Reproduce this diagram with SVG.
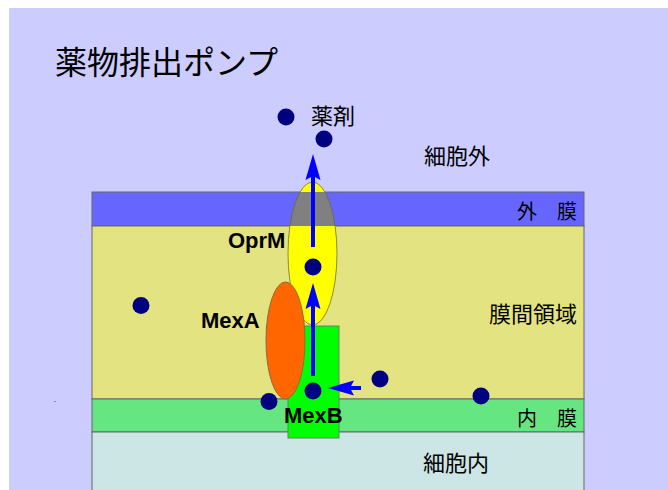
<svg xmlns="http://www.w3.org/2000/svg" width="668" height="490" viewBox="0 0 668 490">
  <style>
    .jp { font-family: "Noto Sans CJK JP", "Noto Sans CJK SC", sans-serif; fill: #000; }
    .lbl { font-family: "Liberation Sans", Arial, sans-serif; font-weight: bold; font-size: 22px; fill: #000; }
    .layer { stroke: #666; stroke-width: 1; }
    .drug { fill: #000080; }
    .flow { stroke: #0000ff; stroke-width: 4; fill: none; marker-end: url(#head); }
  </style>
  <defs>
    <marker id="head" markerUnits="userSpaceOnUse" viewBox="-26 -8 26 16" refX="-22" refY="0" markerWidth="26" markerHeight="16" orient="auto">
      <path d="M0,0 L-26,-7.5 L-22,0 L-26,7.5 Z" fill="#0000ff"/>
    </marker>
    <clipPath id="outerBand">
      <rect x="92" y="192" width="492" height="34"/>
    </clipPath>
  </defs>

  <!-- background -->
  <rect x="0" y="0" width="668" height="490" fill="#ffffff"/>
  <rect x="9" y="8" width="659" height="482" fill="#ccccff"/>

  <!-- title -->
  <text class="jp" x="55" y="74" font-size="32">薬物排出ポンプ</text>

  <!-- cell envelope layers -->
  <g id="layers">
    <rect class="layer" x="92" y="192" width="492" height="34" fill="#6666ff"/>
    <rect class="layer" x="92" y="226" width="492" height="173" fill="#e3e382"/>
    <rect class="layer" x="92" y="399" width="492" height="33" fill="#66e680"/>
    <rect class="layer" x="92" y="432" width="492" height="62" fill="#cce5e5"/>
  </g>

  <!-- region labels -->
  <text class="jp" x="424" y="164" font-size="22">細胞外</text>
  <text class="jp" x="577" y="219" font-size="20" text-anchor="end">外　膜</text>
  <text class="jp" x="577" y="322" font-size="22" text-anchor="end">膜間領域</text>
  <text class="jp" x="577" y="426" font-size="20" text-anchor="end">内　膜</text>
  <text class="jp" x="423" y="471" font-size="22">細胞内</text>

  <!-- OprM: outer membrane channel -->
  <g id="OprM">
    <ellipse cx="312.5" cy="253.5" rx="24.5" ry="71.5" fill="#ffff00" stroke="#8a8a40" stroke-width="1"/>
    <ellipse cx="312.5" cy="253.5" rx="24.5" ry="71.5" fill="#808080" stroke="#666" stroke-width="1" clip-path="url(#outerBand)"/>
    <text class="lbl" x="228" y="248">OprM</text>
  </g>

  <!-- MexB: inner membrane transporter -->
  <g id="MexB">
    <rect x="288" y="326" width="51" height="112" fill="#00ff00" stroke="#5a8a5a" stroke-width="1"/>
    <text class="lbl" x="284" y="423">MexB</text>
  </g>

  <!-- MexA: membrane fusion protein -->
  <g id="MexA">
    <ellipse cx="285.5" cy="340.5" rx="19.5" ry="58.5" fill="#ff6600" stroke="#8a6a40" stroke-width="1"/>
    <text class="lbl" x="201" y="328">MexA</text>
  </g>

  <!-- drug molecules -->
  <g id="drugs">
    <circle class="drug" cx="286" cy="117" r="8.5"/>
    <circle class="drug" cx="324" cy="139" r="8.5"/>
    <circle class="drug" cx="313" cy="267" r="8.5"/>
    <circle class="drug" cx="141" cy="305.5" r="8.5"/>
    <circle class="drug" cx="313" cy="391" r="8.5"/>
    <circle class="drug" cx="380" cy="379" r="8.5"/>
    <circle class="drug" cx="269" cy="401.5" r="8.5"/>
    <circle class="drug" cx="481" cy="396" r="8.5"/>
    <text class="jp" x="311" y="124" font-size="22">薬剤</text>
  </g>

  <!-- efflux path -->
  <g id="connectors">
    <line class="flow" x1="313" y1="247" x2="313" y2="176"/>
    <line class="flow" x1="313" y1="376" x2="313" y2="305"/>
    <line class="flow" x1="361" y1="388" x2="350" y2="388"/>
  </g>

  <rect x="54" y="401" width="2" height="1" fill="#8888aa"/>
</svg>
